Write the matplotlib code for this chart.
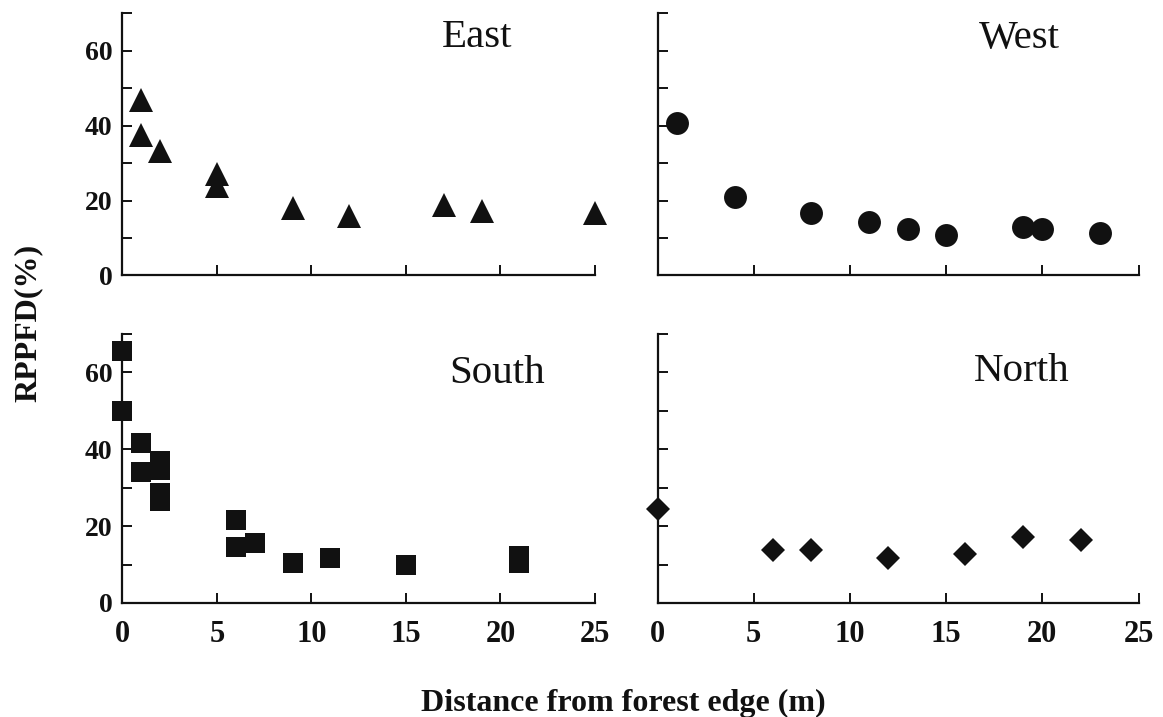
import numpy as np
import matplotlib
matplotlib.use("Agg")
import matplotlib.pyplot as plt

# distance from the forest edge (m) and relative PPFD (%) for each edge
east_x = [1, 1, 2, 5, 5, 9, 12, 17, 19, 25]
east_y = [47, 37.5, 33.3, 27, 24, 17.9, 15.8, 18.8, 17.1, 16.7]

west_x = [1, 4, 8, 11, 13, 15, 19, 20, 23]
west_y = [40.7, 21, 16.6, 14.4, 12.3, 10.7, 12.9, 12.4, 11.3]

south_x = [0, 0, 1, 1, 2, 2, 2, 2, 6, 6, 7, 9, 11, 15, 21, 21]
south_y = [65.5, 50, 41.6, 34, 37, 34.5, 28.5, 26.5, 21.7, 14.5, 15.5,
           10.3, 11.6, 9.8, 12.2, 10.3]

north_x = [0, 6, 8, 12, 16, 19, 22]
north_y = [24.4, 13.8, 13.8, 11.8, 12.8, 17.2, 16.4]

x_ticks = [0, 5, 10, 15, 20, 25]
y_ticks = [0, 10, 20, 30, 40, 50, 60, 70]
y_tick_labels = ["0", "", "20", "", "40", "", "60", ""]

SERIF = "Liberation Serif"
INK = "#111111"


def setup_axis(ax, show_xlabels, show_ylabels):
    ax.set_xlim(0, 25)
    ax.set_ylim(0, 70)
    for side in ("top", "right"):
        ax.spines[side].set_visible(False)
    for side in ("left", "bottom"):
        ax.spines[side].set_linewidth(1.6)
        ax.spines[side].set_color(INK)

    ax.set_xticks(x_ticks)
    ax.set_yticks(y_ticks)
    ax.tick_params(axis="both", direction="in", length=7, width=1.4,
                   color=INK)
    ax.tick_params(axis="x", pad=12)
    ax.tick_params(axis="y", pad=7)

    if show_xlabels:
        ax.set_xticklabels([str(t) for t in x_ticks], fontfamily=SERIF,
                           fontweight="bold", fontsize=22, color=INK)
    else:
        ax.set_xticklabels([])
    if show_ylabels:
        ax.set_yticklabels(y_tick_labels, fontfamily=SERIF,
                           fontweight="bold", fontsize=20, color=INK)
    else:
        ax.set_yticklabels([])


def panel(fig, rect, xs, ys, marker, ms, name, name_pos,
          show_xlabels, show_ylabels):
    ax = fig.add_axes(rect)
    setup_axis(ax, show_xlabels, show_ylabels)
    ax.plot(xs, ys, linestyle="none", marker=marker, markersize=ms,
            color=INK, markeredgewidth=0, clip_on=False, zorder=3)
    ax.text(name_pos[0], name_pos[1], name, transform=ax.transAxes,
            ha="center", va="baseline", fontfamily=SERIF, fontsize=29.5,
            color=INK)
    return ax


fig = plt.figure(figsize=(11.63, 7.17), dpi=100)
fig.patch.set_facecolor("white")

left_col = (0.1053, 0.4063)
right_col = (0.5654, 0.4136)
top_row = (0.6158, 0.3654)
bottom_row = (0.1590, 0.3752)

panel(fig, [left_col[0], top_row[0], left_col[1], top_row[1]],
      east_x, east_y, "^", 17, "East", (0.751, 0.871), False, True)
panel(fig, [right_col[0], top_row[0], right_col[1], top_row[1]],
      west_x, west_y, "o", 16.5, "West", (0.753, 0.870), False, False)
panel(fig, [left_col[0], bottom_row[0], left_col[1], bottom_row[1]],
      south_x, south_y, "s", 14.4, "South", (0.792, 0.819), True, True)
panel(fig, [right_col[0], bottom_row[0], right_col[1], bottom_row[1]],
      north_x, north_y, "D", 12.5, "North", (0.758, 0.827), True, False)

fig.text(0.024, 0.5495, "RPPFD(%)", rotation=90, ha="center", va="center",
         fontfamily=SERIF, fontweight="bold", fontsize=23, color=INK)
fig.text(0.536, 0.0084, "Distance from forest edge (m)", ha="center",
         va="baseline", fontfamily=SERIF, fontweight="bold", fontsize=23,
         color=INK)

fig.savefig("out.png", dpi=100, facecolor="white")
